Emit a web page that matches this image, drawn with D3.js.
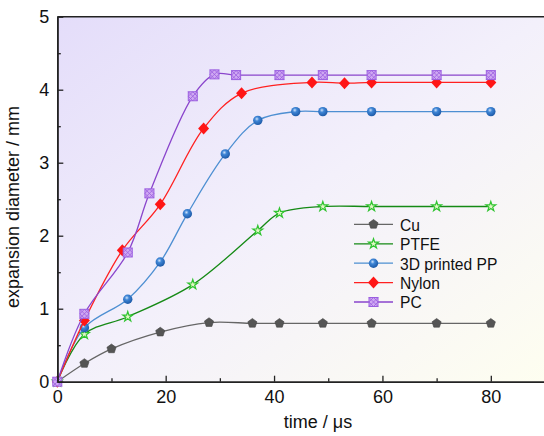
<!DOCTYPE html>
<html lang="en">

<head>
    <meta charset="UTF-8">
    <title>Expansion diameter vs time</title>
    <script src="https://cdn.jsdelivr.net/npm/d3@7"></script>
    <style>
        html,
        body {
            margin: 0;
            padding: 0;
            background: #fff;
        }

        svg text {
            font-family: "Liberation Sans", Arial, sans-serif;
            fill: #111;
        }
    </style>
</head>

<body>
    <svg id="chart" width="544" height="436"></svg>
    <script>
        // Data (time in µs, diameter in mm)
        const seriesNames = ['Cu', 'PTFE', '3D printed PP', 'Nylon', 'PC'];

        const cuTime = [0, 5, 10, 19, 28, 36, 41, 49, 58, 70, 80];
        const cuDiam = [0, 0.25, 0.45, 0.68, 0.81, 0.80, 0.80, 0.80, 0.80, 0.80, 0.80];

        const ptfeTime = [0, 5, 13, 25, 37, 41, 49, 58, 70, 80];
        const ptfeDiam = [0, 0.65, 0.89, 1.33, 2.07, 2.31, 2.40, 2.40, 2.40, 2.40];

        const ppTime = [0, 5, 13, 19, 24, 31, 37, 44, 49, 58, 70, 80];
        const ppDiam = [0, 0.74, 1.13, 1.64, 2.30, 3.12, 3.58, 3.70, 3.70, 3.70, 3.70, 3.70];

        const nylonTime = [0, 5, 12, 19, 27, 34, 47, 53, 58, 70, 80];
        const nylonDiam = [0, 0.84, 1.80, 2.43, 3.47, 3.95, 4.10, 4.09, 4.10, 4.10, 4.10];

        const pcTime = [0, 5, 13, 17, 25, 29, 33, 41, 49, 58, 70, 80];
        const pcDiam = [0, 0.93, 1.77, 2.58, 3.91, 4.21, 4.20, 4.20, 4.20, 4.20, 4.20, 4.20];

        const xTicks = [0, 20, 40, 60, 80];
        const yTicks = [0, 1, 2, 3, 4, 5];

        const svg = d3.select('#chart');

        // plot box in pixels
        const plotL = 57.3, plotR = 545, plotT = 16.7, plotB = 381.7;

        const x = d3.scaleLinear().domain([0, 90]).range([plotL, plotR]);
        const y = d3.scaleLinear().domain([0, 5]).range([plotB, plotT]);

        const defs = svg.append('defs');

        // plot background: lavender top-left fading to pale yellow bottom-right
        const bg = defs.append('linearGradient')
            .attr('id', 'bg')
            .attr('x1', '0%').attr('y1', '0%')
            .attr('x2', '100%').attr('y2', '100%');
        bg.append('stop').attr('offset', '0%').attr('stop-color', '#e4ddfa');
        bg.append('stop').attr('offset', '50%').attr('stop-color', '#f3f0fb');
        bg.append('stop').attr('offset', '100%').attr('stop-color', '#fefef0');

        const ball = defs.append('radialGradient')
            .attr('id', 'ball')
            .attr('cx', '40%').attr('cy', '35%').attr('r', '65%');
        ball.append('stop').attr('offset', '0%').attr('stop-color', '#cfe3fb');
        ball.append('stop').attr('offset', '35%').attr('stop-color', '#3f86d6');
        ball.append('stop').attr('offset', '100%').attr('stop-color', '#1d5aa8');

        svg.append('rect')
            .attr('x', plotL)
            .attr('y', plotT)
            .attr('width', plotR - plotL)
            .attr('height', plotB - plotT)
            .attr('fill', 'url(#bg)');

        // series definitions
        const series = [
            { name: seriesNames[0], t: cuTime, d: cuDiam, line: '#666666', shape: 'pentagon' },
            { name: seriesNames[1], t: ptfeTime, d: ptfeDiam, line: '#158a15', shape: 'star' },
            { name: seriesNames[2], t: ppTime, d: ppDiam, line: '#4d8fd2', shape: 'ball' },
            { name: seriesNames[3], t: nylonTime, d: nylonDiam, line: '#ff2020', shape: 'diamond' },
            { name: seriesNames[4], t: pcTime, d: pcDiam, line: '#8a45cc', shape: 'pc' }
        ];

        function drawMarker(g, shape, cx, cy) {
            const m = g.append('g').attr('transform', `translate(${cx},${cy})`);
            if (shape === 'pentagon') {
                const pts = d3.range(5).map(i => {
                    const a = -Math.PI / 2 + i * 2 * Math.PI / 5;
                    return [4.8 * Math.cos(a), 4.8 * Math.sin(a)];
                });
                m.append('path').attr('d', 'M' + pts.join('L') + 'Z')
                    .attr('fill', '#555555').attr('stroke', '#444').attr('stroke-width', 0.6);
            } else if (shape === 'star') {
                m.append('path').attr('d', d3.symbol(d3.symbolStar, 30)())
                    .attr('fill', '#e2f7c6').attr('stroke', '#2fc42f').attr('stroke-width', 1.2);
            } else if (shape === 'ball') {
                m.append('circle').attr('r', 4.7).attr('fill', 'url(#ball)');
            } else if (shape === 'diamond') {
                m.append('path').attr('d', 'M0,-6L5.5,0L0,6L-5.5,0Z')
                    .attr('fill', '#ff1616');
            } else if (shape === 'pc') {
                m.append('rect').attr('x', -4.5).attr('y', -4.5).attr('width', 9).attr('height', 9)
                    .attr('fill', '#cfa8f2').attr('stroke', '#9a5ee0').attr('stroke-width', 1);
                m.append('path').attr('d', 'M-4.5,-4.5L4.5,4.5M4.5,-4.5L-4.5,4.5M0,-4.5L4.5,0L0,4.5L-4.5,0Z')
                    .attr('fill', 'none').attr('stroke', '#9a5ee0').attr('stroke-width', 0.8);
            }
        }

        const lineGen = d3.line()
            .x(p => x(p[0]))
            .y(p => y(p[1]))
            .curve(d3.curveCatmullRom.alpha(0.5));

        const plot = svg.append('g');

        series.forEach(s => {
            const pts = s.t.map((t, i) => [t, s.d[i]]);
            plot.append('path')
                .attr('d', lineGen(pts))
                .attr('fill', 'none')
                .attr('stroke', s.line)
                .attr('stroke-width', 1.3);
            const mg = plot.append('g');
            pts.forEach(p => drawMarker(mg, s.shape, x(p[0]), y(p[1])));
        });

        // axes with inward ticks
        const axisColor = '#222';

        svg.append('g')
            .attr('transform', `translate(0,${plotB})`)
            .call(d3.axisBottom(x).tickValues(xTicks).tickSizeInner(-6).tickSizeOuter(0).tickPadding(9).tickFormat(d3.format('d')));
        svg.append('g')
            .attr('transform', `translate(0,${plotB})`)
            .call(d3.axisBottom(x).tickValues([10, 30, 50, 70]).tickSizeInner(-3.5).tickSizeOuter(0).tickFormat(''));

        svg.append('g')
            .attr('transform', `translate(${plotL},0)`)
            .call(d3.axisLeft(y).tickValues(yTicks).tickSizeInner(-6).tickSizeOuter(0).tickPadding(8).tickFormat(d3.format('d')));
        svg.append('g')
            .attr('transform', `translate(${plotL},0)`)
            .call(d3.axisLeft(y).tickValues([0.5, 1.5, 2.5, 3.5, 4.5]).tickSizeInner(-3.5).tickSizeOuter(0).tickFormat(''));

        svg.selectAll('.domain').attr('stroke', axisColor).attr('stroke-width', 1.6);
        svg.selectAll('.tick line').attr('stroke', axisColor).attr('stroke-width', 1.3);
        svg.selectAll('.tick text').attr('font-size', 18).attr('fill', '#111')
            .style('font-family', '"Liberation Sans", Arial, sans-serif');

        // top frame line
        svg.append('line')
            .attr('x1', plotL).attr('x2', plotR)
            .attr('y1', plotT).attr('y2', plotT)
            .attr('stroke', axisColor).attr('stroke-width', 1.6);

        // axis titles
        svg.append('text')
            .attr('x', 318)
            .attr('y', 428)
            .attr('text-anchor', 'middle')
            .attr('font-size', 18)
            .text('time / μs');

        svg.append('text')
            .attr('transform', 'translate(18.5,207) rotate(-90)')
            .attr('text-anchor', 'middle')
            .attr('font-size', 18)
            .text('expansion diameter / mm');

        // legend (text squeezed a little horizontally like the original narrow face)
        const legend = svg.append('g').attr('class', 'legend');
        const legY = [224.3, 243.8, 263.2, 282.6, 302];
        series.forEach((s, i) => {
            const row = legend.append('g').attr('transform', `translate(0,${legY[i]})`);
            row.append('line')
                .attr('x1', 354).attr('x2', 393)
                .attr('y1', 0).attr('y2', 0)
                .attr('stroke', s.line).attr('stroke-width', 1.3);
            drawMarker(row, s.shape, 373.5, 0);
            row.append('text')
                .attr('transform', 'translate(400,6.3) scale(0.92,1)')
                .attr('font-size', 17)
                .text(s.name);
        });
    </script>
</body>

</html>
